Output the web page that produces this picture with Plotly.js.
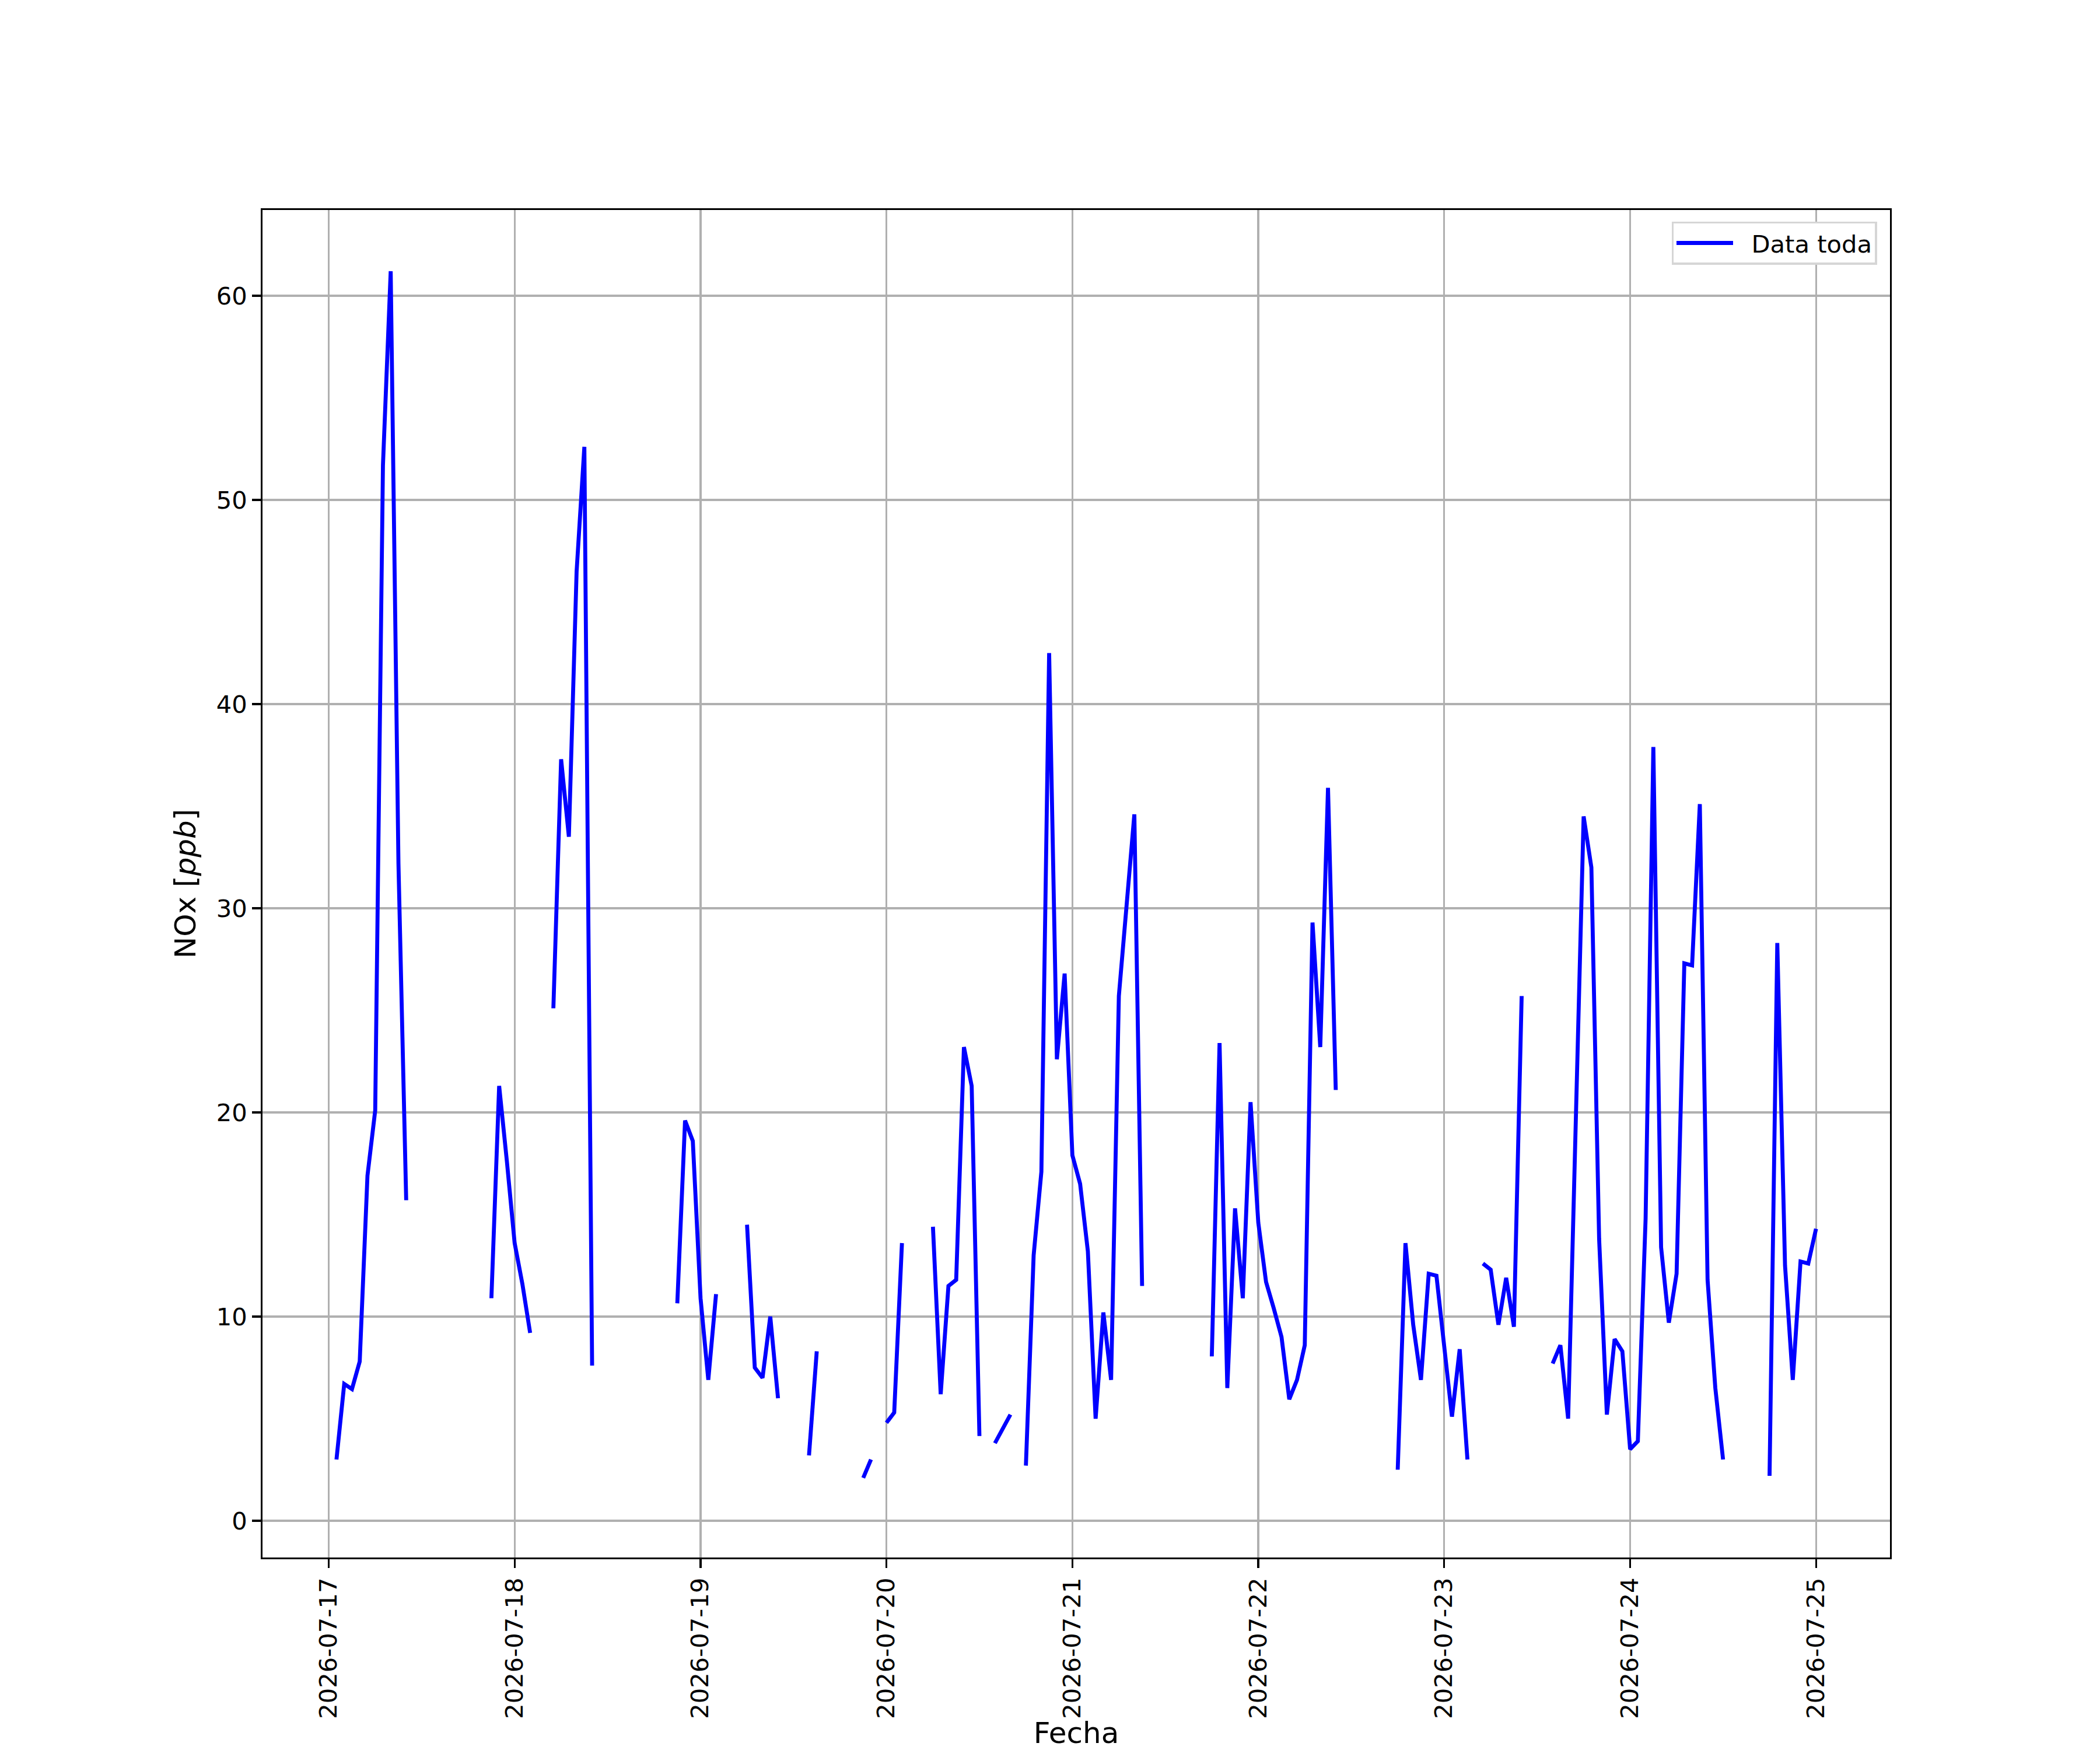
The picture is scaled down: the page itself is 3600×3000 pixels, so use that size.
<!DOCTYPE html>
<html>
<head>
<meta charset="utf-8">
<script src="https://cdn.plot.ly/plotly-3.0.1.min.js"></script>
<style>html,body{margin:0;padding:0;background:#fff;}</style>
</head>
<body>
<div id="chart" style="width:3600px;height:3000px;"></div>
<script>
// Hourly NOx values (ppb); null = missing hour. Each array = hours 00..23 of that day.
const startDay = '2026-07-17';
const dayLabels = ['2026-07-17','2026-07-18','2026-07-19','2026-07-20','2026-07-21','2026-07-22','2026-07-23','2026-07-24','2026-07-25'];
const day17 = [null,3.0,6.7,6.45,7.8,16.9,20.1,51.7,61.2,32.2,15.7,null,null,null,null,null,null,null,null,null,null,10.9,21.3,17.6];
const day18 = [13.6,11.6,9.2,null,null,25.1,37.3,33.5,46.5,52.6,7.6,null,null,null,null,null,null,null,null,null,null,10.65,19.6,18.6];
const day19 = [10.9,6.9,11.1,null,null,null,14.5,7.5,7.0,10.0,6.0,null,null,null,3.2,8.3,null,null,null,null,null,2.1,3.0,null];
const day20 = [4.8,5.3,13.6,null,null,null,14.4,6.2,11.5,11.8,23.2,21.3,4.15,null,3.8,4.5,5.2,null,2.7,13.0,17.1,42.5,22.6,26.8];
const day21 = [17.9,16.5,13.2,5.0,10.2,6.9,25.7,30.1,34.6,11.5,null,null,null,null,null,null,null,null,8.05,23.4,6.5,15.3,10.9,20.5];
const day22 = [14.6,11.7,10.4,9.0,5.95,6.9,8.6,29.3,23.2,35.9,21.1,null,null,null,null,null,null,null,2.5,13.6,9.6,6.9,12.1,12.0];
const day23 = [8.55,5.1,8.4,3.0,null,12.6,12.3,9.6,11.9,9.5,25.7,null,null,null,7.7,8.6,5.0,20.3,34.5,32.0,13.8,5.2,8.9,8.3];
const day24 = [3.5,3.9,14.8,37.9,13.4,9.7,12.1,27.3,27.2,35.1,11.8,6.5,3.0,null,null,null,null,null,2.2,28.3,12.5,6.9,12.7,12.6];
const day25 = [14.3];

// axis range
const yRange = [-1.8, 64.2];
const yTicks = [0, 10, 20, 30, 40, 50, 60];

const values = [].concat(day17, day18, day19, day20, day21, day22, day23, day24, day25);
const t0 = Date.parse(startDay + 'T00:00:00Z');
const HOUR = 3600000;
function fmt(ms){ return new Date(ms).toISOString().replace('T',' ').slice(0,19); }
const times = values.map((v,i) => fmt(t0 + i*HOUR));

// matplotlib-like 5% auto margins on x
const idx = values.map((v,i)=> v===null?null:i).filter(i=>i!==null);
const tFirst = t0 + idx[0]*HOUR, tLast = t0 + idx[idx.length-1]*HOUR;
const tSpan = tLast - tFirst;
const xr = [fmt(tFirst - 0.05*tSpan), fmt(tLast + 0.05*tSpan)];

const FS = 41.67;   // 10 pt at 300 dpi
const FSL = 50;     // 12 pt at 300 dpi
const LW = 3.33;

const trace = {
  x: times, y: values, type: 'scatter', mode: 'lines', name: '\u00a0\u00a0Data toda',
  line: {color: '#0000ff', width: 6.8}, connectgaps: false
};

const layout = {
  width: 3600, height: 3000,
  margin: {l: 450, r: 360, t: 360, b: 330, pad: 0},
  paper_bgcolor: '#ffffff', plot_bgcolor: '#ffffff',
  font: {family: 'DejaVu Sans', size: FS, color: '#000000'},
  showlegend: true,
  legend: {
    x: 0.992, xanchor: 'right', y: 0.9915, yanchor: 'top',
    bgcolor: '#ffffff', bordercolor: '#d6d6d6', borderwidth: 3.3,
    font: {family: 'DejaVu Sans', size: FS, color: '#000000'},
    itemwidth: 97
  },
  xaxis: {
    type: 'date', range: xr,
    tickmode: 'array', tickvals: dayLabels, ticktext: dayLabels,
    tickangle: -90,
    ticks: 'outside', ticklen: 14.6, tickwidth: LW, tickcolor: '#000000',
    showgrid: true, gridcolor: '#b0b0b0', gridwidth: LW,
    showline: true, mirror: true, linecolor: '#000000', linewidth: LW,
    zeroline: false,
    tickfont: {family: 'DejaVu Sans', size: FS, color: '#000000'},
    title: {text: 'Fecha', standoff: 24, font: {family: 'DejaVu Sans', size: FSL, color: '#000000'}}
  },
  yaxis: {
    range: yRange, tickmode: 'array', tickvals: yTicks, ticktext: yTicks.map(String),
    ticks: 'outside', ticklen: 14.6, tickwidth: LW, tickcolor: '#000000',
    showgrid: true, gridcolor: '#b0b0b0', gridwidth: LW,
    showline: true, mirror: true, linecolor: '#000000', linewidth: LW,
    zeroline: false,
    tickfont: {family: 'DejaVu Sans', size: FS, color: '#000000'},
    title: {text: 'NOx [<i>ppb</i>]', standoff: 20, font: {family: 'DejaVu Sans', size: FSL, color: '#000000'}}
  }
};

Plotly.newPlot('chart', [trace], layout, {displayModeBar: false, staticPlot: true});
</script>
</body>
</html>
